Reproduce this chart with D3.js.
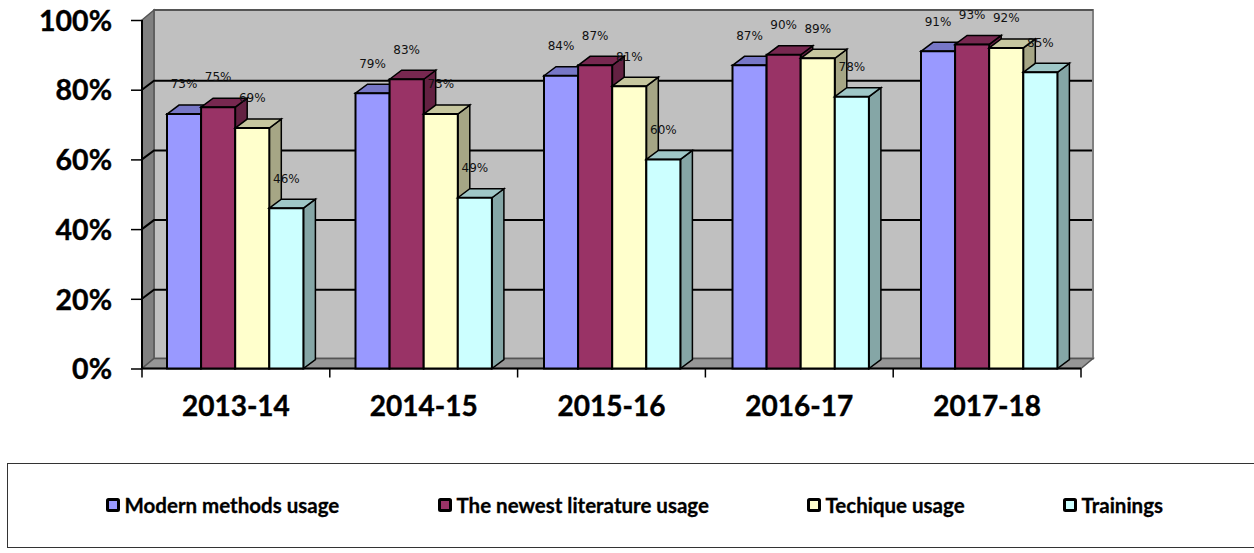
<!DOCTYPE html>
<html><head><meta charset="utf-8">
<script src="https://cdn.jsdelivr.net/npm/d3@7"></script>
<style>html,body{margin:0;padding:0;background:#fff;overflow:hidden}svg{display:block}</style>
</head><body><svg id="c" width="1254" height="553"></svg>
<script>
const categories=["2013-14","2014-15","2015-16","2016-17","2017-18"];
const seriesNames=["Modern methods usage","The newest literature usage","Techique usage","Trainings"];
const modern=[73,79,84,87,91];
const literature=[75,83,87,90,93];
const technique=[69,73,81,89,92];
const trainings=[46,49,60,78,85];
const yTicks=[0,20,40,60,80,100];
const colors=["#9999FF","#993366","#FFFFCC","#CCFFFF"];
const seriesValues=[modern,literature,technique,trainings];

const svg=d3.select("#c");
const L=142,R=1081,T=20,B=368.5,dx=12,dy=10,bdx=12,bdy=9;
const x=d3.scaleBand().domain(categories).range([L,R]);
const y=d3.scaleLinear().domain([0,100]).range([B,T]);
const barW=34.1;
const xBars=d3.scaleBand().domain(categories).range([167,167+188.5*5]);
const x1=d3.scaleBand().domain(seriesNames).range([0,barW*4]);
const poly=(pts,fill,stroke,sw)=>svg.append("polygon").attr("points",pts.map(p=>p.join(",")).join(" ")).attr("fill",fill).attr("stroke",stroke).attr("stroke-width",sw);

// walls
poly([[L+dx,T-dy],[R+dx,T-dy],[R+dx,B-dy],[L+dx,B-dy]],"#C0C0C0","#808080",2);
poly([[L,T],[L+dx,T-dy],[L+dx,B-dy],[L,B]],"#808080","#555",1.5);
poly([[L,B],[L+dx,B-dy],[R+dx,B-dy],[R,B]],"#969696","#555",1.5);
svg.append("line").attr("x1",L+dx).attr("x2",R+dx).attr("y1",T-dy).attr("y2",T-dy).attr("stroke","#555").attr("stroke-width",2);

// gridlines
yTicks.filter(t=>t>0&&t<100).forEach(t=>{
  svg.append("path").attr("fill","none").attr("stroke","#000").attr("stroke-width",2)
    .attr("d",`M${L},${y(t)}L${L+dx},${y(t)-9}L${R+dx-1},${y(t)-9}`);
});

// axes
const gy=svg.append("g").attr("transform",`translate(${L},0)`)
  .call(d3.axisLeft(y).tickValues(yTicks).tickFormat(d=>d+"%").tickSize(11));
gy.selectAll("text").attr("x",-30).attr("dy","0.36em").style("font","bold 28.5px Lato").attr("fill","#000").attr("stroke","#000").attr("stroke-width",0.4);
gy.selectAll("line").attr("stroke","#000").attr("stroke-width",1.5);
gy.select(".domain").attr("stroke","#000").attr("stroke-width",2).attr("d",`M0,${T}V${B}`);

const gx=svg.append("g").attr("transform",`translate(0,${B})`)
  .call(d3.axisBottom(x).tickSize(0).tickPadding(28));
gx.selectAll("text").style("font","bold 28px Lato").attr("fill","#000").attr("stroke","#000").attr("stroke-width",0.4);
gx.select(".domain").attr("stroke","#000").attr("stroke-width",2).attr("d",`M${L},0H${R}`);
d3.range(categories.length+1).forEach(i=>{
  const px=i<categories.length?x(categories[i]):R;
  gx.append("line").attr("x1",px).attr("x2",px).attr("y1",0).attr("y2",9).attr("stroke","#000").attr("stroke-width",1.5);
});

// bars
categories.forEach((cat,i)=>{
  seriesNames.forEach((s,j)=>{
    const v=seriesValues[j][i], c=colors[j];
    const x0=xBars(cat)+x1(s), x2=x0+barW, yt=y(v);
    const top=d3.rgb(c); const f=k=>d3.rgb(top.r*k,top.g*k,top.b*k).formatHex();
    poly([[x2,yt],[x2+bdx,yt-bdy],[x2+bdx,B-bdy],[x2,B]],f(0.65),"#000",1.5);
    poly([[x0,yt],[x0+bdx,yt-bdy],[x2+bdx,yt-bdy],[x2,yt]],f(0.78),"#000",1.5);
    poly([[x0,yt],[x2,yt],[x2,B],[x0,B]],c,"#000",2);
  });
});

// data labels
categories.forEach((cat,i)=>{
  seriesNames.forEach((s,j)=>{
    const v=seriesValues[j][i];
    svg.append("text").attr("x",xBars(cat)+x1(s)+barW/2).attr("y",y(v)-30).attr("dy","0.36em")
      .attr("text-anchor","middle").style("font","12px 'DejaVu Sans'").attr("fill","#111").text(v+"%");
  });
});

// legend
svg.append("rect").attr("x",7.5).attr("y",463.5).attr("width",1260).attr("height",84).attr("fill","#fff").attr("stroke","#333").attr("stroke-width",1);
const legendX=[106,438,807,1063];
seriesNames.forEach((s,j)=>{
  svg.append("rect").attr("x",legendX[j]+1.5).attr("y",499.5).attr("width",11).attr("height",11).attr("rx",1).attr("fill",colors[j]).attr("stroke","#000").attr("stroke-width",3);
  svg.append("text").attr("x",legendX[j]+18.5).attr("y",505.5).attr("dy","0.36em").style("font","bold 20.5px Lato").attr("fill","#000").attr("stroke","#000").attr("stroke-width",0.3).text(s);
});
</script></body></html>
